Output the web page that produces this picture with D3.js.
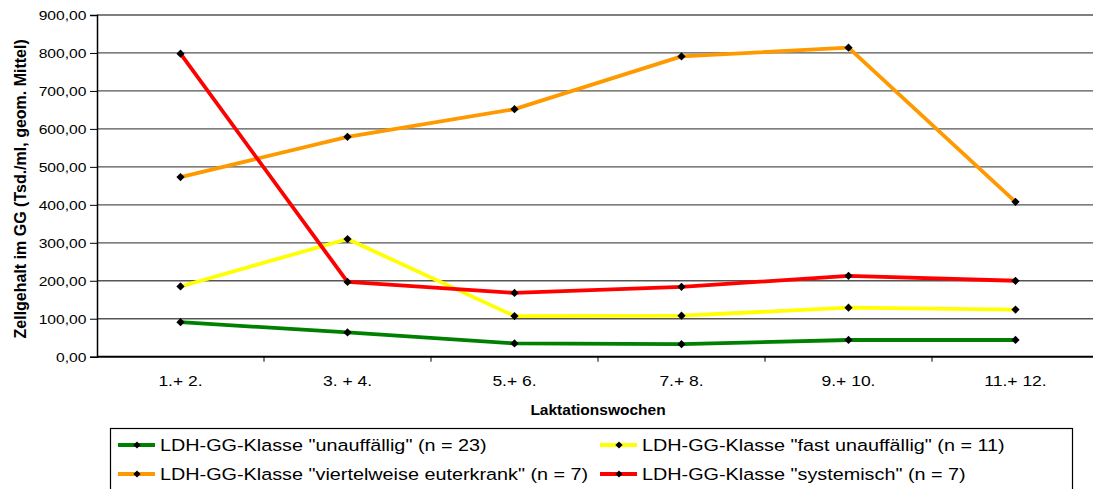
<!DOCTYPE html>
<html><head><meta charset="utf-8">
<script src="https://cdn.jsdelivr.net/npm/d3@7"></script>
<style>
html,body{margin:0;padding:0;background:#fff;}
svg{display:block;font-family:"Liberation Sans",Arial,sans-serif;}
</style></head>
<body>
<svg id="c" width="1093" height="489"></svg>
<script>
const categories = ["1.+ 2.", "3. + 4.", "5.+ 6.", "7.+ 8.", "9.+ 10.", "11.+ 12."];
const unauffaellig = [91, 64, 35, 33, 44, 44];
const fastUnauffaellig = [185, 310, 107, 108, 129, 124];
const viertelweise = [473, 579, 652, 791, 814, 408];
const systemisch = [798, 197, 168, 184, 213, 200];
const seriesNames = [
  'LDH-GG-Klasse "unauffällig" (n = 23)',
  'LDH-GG-Klasse "fast unauffällig" (n = 11)',
  'LDH-GG-Klasse "viertelweise euterkrank" (n = 7)',
  'LDH-GG-Klasse "systemisch" (n = 7)'
];
const seriesColors = ["#008000", "#FFFF00", "#FF9900", "#FF0000"];
const yTicks = [0, 100, 200, 300, 400, 500, 600, 700, 800, 900];

const series = [
  {name: seriesNames[0], color: seriesColors[0], values: unauffaellig},
  {name: seriesNames[1], color: seriesColors[1], values: fastUnauffaellig},
  {name: seriesNames[2], color: seriesColors[2], values: viertelweise},
  {name: seriesNames[3], color: seriesColors[3], values: systemisch}
];

const svg = d3.select("#c");
const m = {left: 97, top: 15, right: 1099, bottom: 356.7};

const x = d3.scaleBand().domain(categories).range([m.left, m.right]);
const y = d3.scaleLinear().domain([0, 900]).range([m.bottom, m.top]);

// gridlines
svg.append("g").selectAll("line").data(yTicks.filter(d => d > 0)).join("line")
  .attr("x1", m.left).attr("x2", m.right)
  .attr("y1", d => y(d)).attr("y2", d => y(d))
  .attr("stroke", "#555").attr("stroke-width", 1.3);

// y axis
const yAxis = d3.axisLeft(y).tickValues(yTicks).tickSize(7).tickPadding(4)
  .tickFormat(d => d3.format(".2f")(d).replace(".", ","));
const ya = svg.append("g").attr("transform", `translate(${m.left},0)`).call(yAxis);
ya.select(".domain").attr("stroke", "#000").attr("stroke-width", 1.5);
ya.selectAll(".tick line").attr("stroke", "#000");
ya.selectAll("text").attr("font-size", 13.5).attr("fill", "#000")
  .attr("x", -10.5 / 1.16)
  .attr("transform", "scale(1.16,1)")
  .attr("font-family", '"Liberation Sans",Arial,sans-serif');

// x axis
const xAxis = d3.axisBottom(x).tickSize(0).tickPadding(19);
const xa = svg.append("g").attr("transform", `translate(0,${m.bottom})`).call(xAxis);
xa.select(".domain").attr("stroke", "#000").attr("stroke-width", 2);
xa.selectAll("text").attr("font-size", 15).attr("fill", "#000")
  .attr("transform", "scale(1.08,1)")
  .attr("font-family", '"Liberation Sans",Arial,sans-serif');
xa.selectAll(".tick").attr("transform", d => `translate(${(x(d) + x.bandwidth() / 2) / 1.08},0)`);
xa.attr("transform", `translate(0,${m.bottom}) scale(1.08,1)`);
xa.select(".domain").attr("transform", "scale(" + (1 / 1.08) + ",1)").attr("d", `M${m.left},0H${m.right}`);
// boundary ticks
svg.append("g").selectAll("line").data(categories.slice(1)).join("line")
  .attr("x1", d => x(d)).attr("x2", d => x(d))
  .attr("y1", m.bottom).attr("y2", m.bottom + 5)
  .attr("stroke", "#000").attr("stroke-width", 1);

// axis titles
svg.append("text").attr("x", (m.left + m.right) / 2).attr("y", 415)
  .attr("text-anchor", "middle").attr("font-size", 15.5).attr("font-weight", "bold")
  .text("Laktationswochen");
svg.append("text").attr("transform", `translate(20,${(m.top + m.bottom) / 2 + 3}) rotate(-90)`)
  .attr("text-anchor", "middle").attr("font-size", 16).attr("font-weight", "bold")
  .attr("dy", "0.35em")
  .text("Zellgehalt im GG (Tsd./ml, geom. Mittel)");

const cx = d => x(d) + x.bandwidth() / 2;
const line = d3.line().x((v, i) => cx(categories[i])).y(v => y(v));
const marker = d3.symbol().type(d3.symbolSquare).size(34);

const sg = svg.append("g");
series.forEach(s => {
  sg.append("path").attr("d", line(s.values)).attr("fill", "none")
    .attr("stroke", s.color).attr("stroke-width", 3.8).attr("stroke-linejoin", "round");
});
series.forEach(s => {
  sg.append("g").selectAll("path").data(s.values).join("path")
    .attr("d", marker)
    .attr("transform", (v, i) => `translate(${cx(categories[i])},${y(v)}) rotate(45)`)
    .attr("fill", "#000");
});

// legend
const lg = svg.append("g");
lg.append("rect").attr("x", 110.5).attr("y", 428.5).attr("width", 962).attr("height", 70)
  .attr("fill", "#fff").attr("stroke", "#000").attr("stroke-width", 1.2);
const legendPos = [[118, 445], [600, 445], [118, 474], [600, 474]];
series.forEach((s, i) => {
  const [lx, ly] = legendPos[i];
  lg.append("line").attr("x1", lx).attr("x2", lx + 37).attr("y1", ly).attr("y2", ly)
    .attr("stroke", s.color).attr("stroke-width", 4);
  lg.append("path").attr("d", d3.symbol().type(d3.symbolSquare).size(26))
    .attr("transform", `translate(${lx + 19},${ly}) rotate(45)`).attr("fill", "#000");
  lg.append("text").attr("x", (lx + 42) / 1.2).attr("y", ly).attr("dy", "0.36em")
    .attr("transform", "scale(1.2,1)")
    .attr("font-size", 16.5).text(s.name);
});
</script>
</body></html>
